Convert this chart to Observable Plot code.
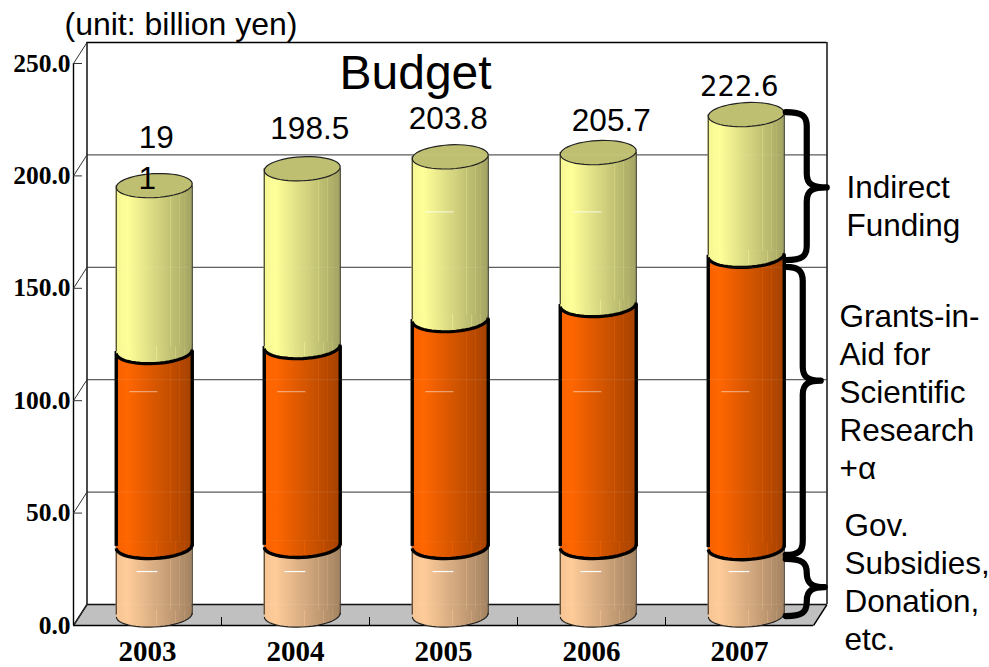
<!DOCTYPE html>
<html>
<head>
<meta charset="utf-8">
<script src="https://cdn.jsdelivr.net/npm/d3@7"></script>
<script src="https://cdn.jsdelivr.net/npm/@observablehq/plot@0.6"></script>
<style>
html,body{margin:0;padding:0;background:#fff;overflow:hidden}
svg{display:block}
</style>
</head>
<body>
<div id="chart"></div>
<script>
// ---- data ----
const years = [2003, 2004, 2005, 2006, 2007];
const gov = [30.5, 31, 30.5, 30.5, 30];
const grants = [86.7, 88.4, 100.9, 107.6, 130];
const indirect = [73.8, 79.1, 72.4, 67.6, 62.6];
const totalLabels = ["19\n1", "198.5", "203.8", "205.7", "222.6"];
const yTicks = [0, 50, 100, 150, 200, 250];
const braceLabels = ["Indirect\nFunding", "Grants-in-\nAid for\nScientific\nResearch\n+α", "Gov.\nSubsidies,\nDonation,\netc."];
const braceTop = [223.5, 154.6, 24.7];
const braceTip = [190, 104, 12.2];
const braceBottom = [157.7, 26.5, -0.7];

// ---- geometry of the fake 3-D box, in scale units ----
const W = 989, H = 667;
const mL = 73, mR = W - 813, mT = 63, mB = H - 625;
const pxX = (W - mL - mR) / years.length;       // px per category
const pxY = (H - mT - mB) / 250;                // px per unit
const depthX = 13.5 / pxX, depthY = 21 / pxY;
const halfW = 38 / pxX;
const RX = 38, RATIO = 12 / 38, TILT = -3 * Math.PI / 180;

function ellipsePoint(rx, t) {
  const ry = rx * RATIO;
  return [rx * Math.cos(t) * Math.cos(TILT) - ry * Math.sin(t) * Math.sin(TILT),
          rx * Math.cos(t) * Math.sin(TILT) + ry * Math.sin(t) * Math.cos(TILT)];
}
const fullEllipse = {draw(c, size) {
  const rx = Math.sqrt(size / Math.PI);
  for (let k = 0; k < 48; k++) {
    const [x, y] = ellipsePoint(rx, k / 48 * 2 * Math.PI);
    k ? c.lineTo(x, y) : c.moveTo(x, y);
  }
  c.closePath();
}};
const frontArc = {draw(c, size) {
  const rx = Math.sqrt(size / Math.PI);
  for (let k = 0; k <= 24; k++) {
    const [x, y] = ellipsePoint(rx, Math.PI - k / 24 * Math.PI);
    k ? c.lineTo(x, y) : c.moveTo(x, y);
  }
}};
const frontFill = {draw(c, size) {
  const rx = Math.sqrt(size / Math.PI);
  c.moveTo(-rx, -5);
  for (let k = 0; k <= 24; k++) {
    const [x, y] = ellipsePoint(rx, Math.PI - k / 24 * Math.PI);
    c.lineTo(x, y);
  }
  c.lineTo(rx, -5);
  c.closePath();
}};

// ---- tables built from the arrays; the cylinders stand half way into the box ----
const mid = depthY / 2;
const cx = i => i + 0.5 + depthX / 2;
const rows = years.map((year, i) => ({year, i, x: cx(i), x1: cx(i) - halfW, x2: cx(i) + halfW}));
const tan = rows.map(r => ({...r, lo: mid, hi: mid + gov[r.i]}));
const orange = rows.map(r => ({...r, lo: mid + gov[r.i], hi: mid + gov[r.i] + grants[r.i]}));
const yellow = rows.map(r => ({...r, lo: mid + gov[r.i] + grants[r.i], hi: mid + gov[r.i] + grants[r.i] + indirect[r.i]}));

function segment(data, grad, sideColor, sideWidth, arcWidth, arcColor) {
  return [
    Plot.rectY(data, {x1: "x1", x2: "x2", y1: "lo", y2: "hi", fill: `url(#${grad})`, insetBottom: 4}),
    Plot.dot(data, {x: "x", y: "lo", r: RX, symbol: frontFill, fill: `url(#${grad})`, stroke: "none"}),
    Plot.ruleX(data, {x: "x1", y1: "lo", y2: "hi", stroke: sideColor, strokeWidth: sideWidth}),
    Plot.ruleX(data, {x: "x2", y1: "lo", y2: "hi", stroke: sideColor, strokeWidth: sideWidth}),
    Plot.dot(data, {x: "x", y: "lo", r: RX, symbol: frontArc, fill: "none", stroke: arcColor, strokeWidth: arcWidth})
  ];
}

const backGrid = yTicks.slice(1, -1);
const boxCorners = [
  {x1: 0, y1: 0, x2: depthX, y2: depthY},
  {x1: years.length, y1: 0, x2: years.length + depthX, y2: depthY}
];
// pixel nudges of the value labels, as in the source
const valueNudge = [null, [7.5, -40], [-2, -38], [13, -32]];

const chart = Plot.plot({
  width: W, height: H,
  marginLeft: mL, marginRight: mR, marginTop: mT, marginBottom: mB,
  style: {background: "#fff", overflow: "visible"},
  x: {domain: [0, years.length], axis: null},
  y: {domain: [0, 250], axis: null},
  marks: [
    // floor
    Plot.area(boxCorners, {x1: "x1", y1: "y1", x2: "x2", y2: "y2", fill: "#c0c0c0"}),
    Plot.link(boxCorners, {x1: "x1", y1: "y1", x2: "x2", y2: "y2", stroke: "#000", strokeWidth: 1.4}),
    // back wall
    Plot.ruleY(backGrid, {y: d => d + depthY, x1: depthX, x2: years.length + depthX, stroke: "#555", strokeWidth: 1.3}),
    Plot.ruleY([0, 250], {y: d => d + depthY, x1: depthX, x2: years.length + depthX, stroke: "#000", strokeWidth: 1.4}),
    Plot.ruleX([depthX, years.length + depthX], {y1: depthY, y2: 250 + depthY, stroke: "#000", strokeWidth: 1.4}),
    // left wall
    Plot.ruleX([0], {y1: 0, y2: 250, stroke: "#000", strokeWidth: 1.4}),
    Plot.link(yTicks, {x1: 0, y1: d => d, x2: depthX, y2: d => d + depthY, stroke: "#333", strokeWidth: 1}),
    Plot.ruleY(yTicks.slice(1), {y: d => d, x1: 0, x2: 9 / pxX, stroke: "#333", strokeWidth: 1}),
    // front edge
    Plot.ruleY([0], {x1: 0, x2: years.length, stroke: "#000", strokeWidth: 1.6}),
    Plot.ruleX(d3.range(1, years.length), {y1: 0, y2: 8 / pxY, stroke: "#000", strokeWidth: 1}),

    // cylinders, bottom to top
    ...segment(tan, "gTan", "#4a3a2a", 1.2, 1.2, "#222"),
    ...segment(orange, "gOrange", "#000", 3.4, 3.4, "#000"),
    ...segment(yellow, "gYellow", "#3a3a20", 1.2, 3.2, "#000"),
    Plot.dot(yellow, {x: "x", y: "hi", r: RX, symbol: fullEllipse, fill: "#bfbf72", stroke: "#222", strokeWidth: 1.2}),

    // grid seen faintly through the cylinders
    Plot.ruleY(yTicks.slice(0, -1), {y: d => d + depthY, x1: depthX, x2: years.length + depthX, stroke: "#fff", strokeOpacity: 0.07, strokeWidth: 1.3}),
    // the little white dashes
    Plot.ruleY(rows, {y: 24, x1: r => r.i + 0.43, x2: r => r.i + 0.57, stroke: "#fff", strokeWidth: 1.2}),
    Plot.ruleY(rows, {y: 104, x1: r => r.i + 0.38, x2: r => r.i + 0.57, stroke: "#fff", strokeWidth: 1, strokeOpacity: 0.55}),
    Plot.ruleY(rows.slice(2, 4), {y: 184, x1: r => r.i + 0.38, x2: r => r.i + 0.57, stroke: "#fff", strokeWidth: 1, strokeOpacity: 0.8}),

    // axis labels
    Plot.axisY({ticks: yTicks, tickSize: 0, tickPadding: 3, tickFormat: d => d.toFixed(1), label: null,
      fontFamily: "Liberation Serif", fontWeight: "bold", fontSize: 25.5, fill: "#000"}),
    Plot.axisX({ticks: years.map((y, i) => i + 0.5), tickSize: 0, tickPadding: 15, label: null,
      tickFormat: d => String(years[Math.floor(d)]), fontFamily: "Liberation Serif", fontWeight: "bold", fontSize: 29, fill: "#000"}),

    // value labels
    ...[1, 2, 3].map(i => Plot.text([totalLabels[i]], {
      x: cx(i), y: yellow[i].hi, dx: valueNudge[i][0], dy: valueNudge[i][1],
      fontFamily: "Liberation Sans", fontSize: 31.5, fill: "#000"
    })),
    // the 191 label wraps in the source
    Plot.text([totalLabels[0].split("\n")[0]], {x: cx(0), y: yellow[0].hi, dx: 2, dy: -48, fontFamily: "Liberation Sans", fontSize: 31.5, fill: "#000"}),
    Plot.text([totalLabels[0].split("\n")[1]], {x: cx(0), y: yellow[0].hi, dx: -7, dy: -7, fontFamily: "Liberation Sans", fontSize: 31.5, fill: "#000"}),
    // the 222.6 label is drawn wider in the source
    Plot.text([totalLabels[4]], {x: cx(4), y: yellow[4].hi, dx: -7, dy: -27, fontFamily: "DejaVu Sans", fontSize: 27.5, fill: "#000"}),

    // title block
    Plot.text(["(unit: billion yen)"], {frameAnchor: "top-left", dx: -9, dy: -51, textAnchor: "start", lineAnchor: "top",
      fontFamily: "Liberation Sans", fontSize: 32, fill: "#000"}),
    Plot.text(["Budget"], {frameAnchor: "top-left", dx: 266, dy: -9, textAnchor: "start", lineAnchor: "top",
      fontFamily: "Liberation Sans", fontSize: 48, fill: "#000"}),

    // side labels
    ...[[846, 170], [839, 299], [844, 508]].map(([px, py], i) =>
      Plot.text([braceLabels[i]], {frameAnchor: "top-left", dx: px - mL, dy: py - mT, textAnchor: "start", lineAnchor: "top",
        fontFamily: "Liberation Sans", fontSize: 31.5, lineHeight: 1.21, fill: "#000"})),

    // curly braces, placed by the y scale
    (index, scales) => {
      const g = d3.create("svg:g").attr("fill", "none").attr("stroke", "#000").attr("stroke-width", 6.2)
        .attr("stroke-linecap", "round").attr("stroke-linejoin", "round");
      const left = scales.x(years.length - 1 + 0.5 + depthX / 2 + halfW) + 2;
      const spines = [21, 17, 21], tips = [41, 35, 39];
      braceTop.forEach((t, i) => {
        const a = scales.y(t + mid), b = scales.y(braceBottom[i] + mid), m = scales.y(braceTip[i] + mid);
        const sx = left + spines[i], tx = left + tips[i];
        const r = Math.min(14, (m - a) / 2, (b - m) / 2);
        const p = d3.path();
        p.moveTo(left, a);
        p.bezierCurveTo(sx - 4, a, sx, a + r * 0.3, sx, a + r);
        p.lineTo(sx, m - r);
        p.bezierCurveTo(sx, m - 3, sx + 6, m, tx, m);
        p.bezierCurveTo(sx + 6, m, sx, m + 3, sx, m + r);
        p.lineTo(sx, b - r);
        p.bezierCurveTo(sx, b - r * 0.3, sx - 4, b, left, b);
        g.append("path").attr("d", p.toString());
      });
      return g.node();
    }
  ]
});

const svg = d3.select(chart);
function addGradient(id, base, stripes) {
  const g = svg.append("defs").append("linearGradient").attr("id", id).attr("x1", "0").attr("x2", "1").attr("y1", "0").attr("y2", "0");
  const c = d3.color(base);
  const shade = k => d3.rgb(c.r * k, c.g * k, c.b * k).formatHex();
  const bright = o => o < 0.15 ? 0.96 + o * 0.25 : 1 - (o - 0.15) * 0.42;
  const stops = [[0, bright(0)], [0.15, 1]];
  for (const s of stripes) stops.push([s - 0.006, bright(s)], [s, Math.min(1, bright(s) + 0.07)], [s + 0.006, bright(s)]);
  stops.push([1, 0.64]);
  stops.sort((a, b) => a[0] - b[0]).forEach(([o, k]) => g.append("stop").attr("offset", o).attr("stop-color", shade(k)));
}
const stripes = [0.1, 0.53, 0.72, 0.78, 0.84, 0.9];
addGradient("gTan", "#ffcc99", stripes);
addGradient("gOrange", "#ff6600", stripes);
addGradient("gYellow", "#ffff99", stripes);

document.getElementById("chart").appendChild(chart);
</script>
</body>
</html>
